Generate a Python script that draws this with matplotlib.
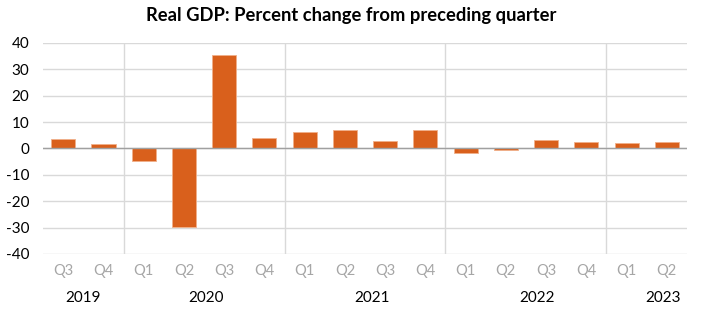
import numpy as np
import matplotlib.pyplot as plt
import matplotlib.transforms as mtransforms

quarters = ["Q3", "Q4", "Q1", "Q2", "Q3", "Q4", "Q1", "Q2", "Q3", "Q4",
            "Q1", "Q2", "Q3", "Q4", "Q1", "Q2"]
gdp_change = [3.6, 1.8, -4.6, -29.9, 35.3, 3.9, 6.3, 7.0, 2.7, 7.0,
              -1.6, -0.6, 3.2, 2.6, 2.0, 2.4]
years = ["2019", "2020", "2021", "2022", "2023"]
year_quarters = [2, 4, 4, 4, 2]

plt.rcParams['font.family'] = ['Lato', 'DejaVu Sans']
plt.rcParams['axes.unicode_minus'] = False

fig = plt.figure(figsize=(7.06, 3.25), dpi=100)
ax = fig.add_axes([0.061, 0.2185, 0.912, 0.6495])

x = np.arange(len(gdp_change))
ax.bar(x, gdp_change, width=0.6, color='#d9601c', edgecolor='#f0b08a',
       linewidth=0.6, zorder=2)

ax.set_xlim(-0.5, len(gdp_change) - 0.5)
ax.set_ylim(-40, 40)
ax.set_yticks(np.arange(-40, 41, 10))
ax.tick_params(axis='y', length=0, labelsize=11, pad=10, colors='black')
ax.set_xticks(x)
ax.set_xticklabels(quarters)
ax.tick_params(axis='x', length=0, labelsize=10.5, pad=7, colors='#a6a6a6')

ax.grid(axis='y', color='#d9d9d9', linewidth=1.0, zorder=0)
ax.axhline(0, color='#a0a0a0', linewidth=1.0, zorder=3)
for s in ax.spines.values():
    s.set_visible(False)

# year separators and labels (Excel-style, labels nudged a bit right)
label_shift = [0.0, 0.05, 0.17, 0.27, 0.4]
trans = mtransforms.blended_transform_factory(ax.transData, ax.transAxes)
start = 0
for i, (yr, n) in enumerate(zip(years, year_quarters)):
    if i > 0:
        ax.axvline(start - 0.5, color='#d9d9d9', linewidth=1.0, zorder=0)
    center = start + (n - 1) / 2 + label_shift[i]
    ax.text(center, -0.21, yr, transform=trans, ha='center', va='center',
            fontsize=11, color='black')
    start += n

fig.text(0.497, 0.953, "Real GDP: Percent change from preceding quarter",
         ha='center', va='center', fontsize=13.2, fontweight='bold')

fig.savefig("out.png", dpi=100)
